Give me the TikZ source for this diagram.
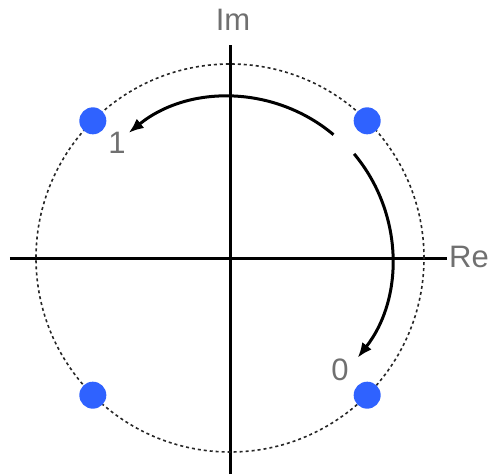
\documentclass[tikz,border=0pt]{standalone}
\usepackage{fontspec}
\setmainfont{Liberation Sans}
\usetikzlibrary{arrows.meta}
\definecolor{dotblue}{HTML}{2F62FF}
\definecolor{lbl}{HTML}{707070}
\begin{document}
\begin{tikzpicture}[x=1pt,y=1pt,
 axis/.style={line width=3pt,black},
 unit/.style={line width=1.6pt, dash pattern=on 3pt off 3pt, black!85},
 root/.style={circle, fill=dotblue, inner sep=0pt, minimum size=27pt},
 lab/.style={text=lbl, font=\fontsize{31}{31}\selectfont, inner sep=0pt},
 turn/.style={line width=3pt, -{Latex[length=15pt,width=12pt]}}]
\useasboundingbox (-230,-216) rectangle (259,258);
\coordinate (O) at (0,0);
\coordinate (xl) at (-220,0);
\coordinate (xr) at (217,0);
\coordinate (yt) at (0,213);
\coordinate (yb) at (0,-216);
\draw[axis] (xl) -- (xr);
\draw[axis] (yb) -- (yt);
\draw[unit] (O) circle[radius=194];
\node[root] (r0) at (45:194) {};
\node[root] (r1) at (135:194) {};
\node[root] (r2) at (225:194) {};
\node[root] (r3) at (315:194) {};
\coordinate (a1s) at (50:161);
\coordinate (a2s) at (40:162);
\draw[turn] (a1s) arc[start angle=50, end angle=129, radius=161];
\draw[turn] (a2s) arc[start angle=40, end angle=-38, radius=162];
\node[lab] (re) at (239,1) {Re};
\node[lab] (im) at (3,238) {Im};
\node[lab] (one) at (-113,115) {1};
\node[lab] (zero) at (110,-112) {0};
\end{tikzpicture}
\end{document}
